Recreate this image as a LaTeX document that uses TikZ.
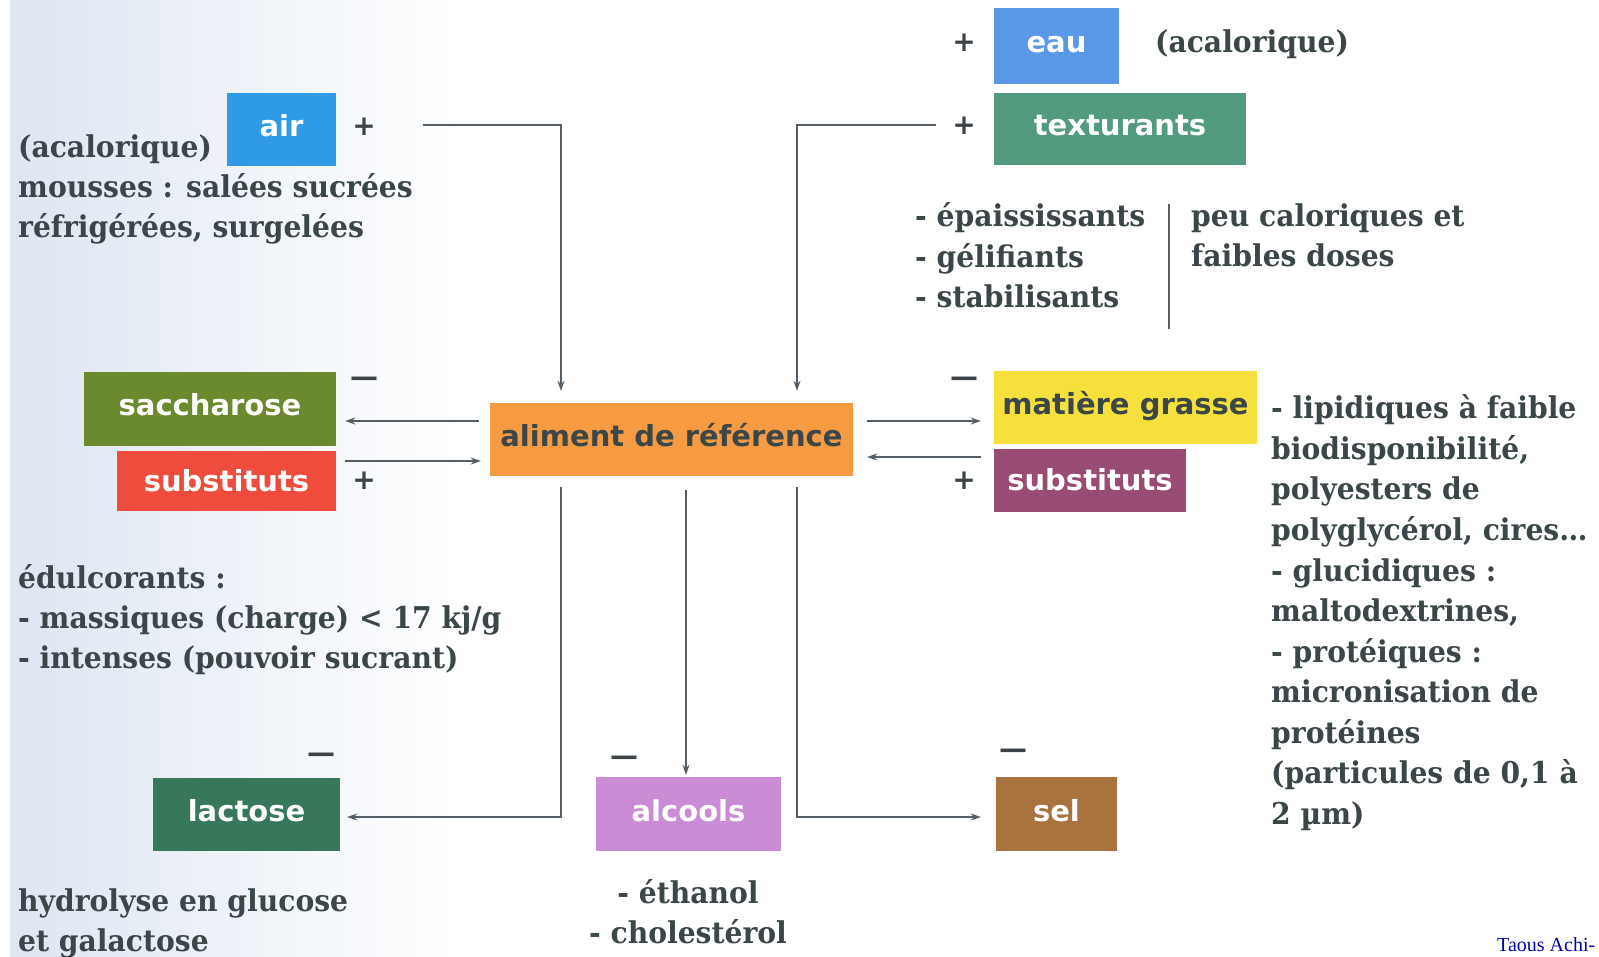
\documentclass[tikz,border=0pt]{standalone}
\usepackage{fontspec}
\setmainfont{Liberation Serif}
\newfontfamily\boxfont{DejaVu Sans}
\newfontfamily\serfont{DejaVu Serif}[FakeStretch=0.94]
\usetikzlibrary{arrows.meta}
\definecolor{cAir}{RGB}{47,154,230}
\definecolor{cEau}{RGB}{90,152,232}
\definecolor{cTex}{RGB}{82,155,126}
\definecolor{cSac}{RGB}{107,138,46}
\definecolor{cSubR}{RGB}{240,76,62}
\definecolor{cAli}{RGB}{247,155,66}
\definecolor{cMg}{RGB}{245,224,60}
\definecolor{cSubP}{RGB}{152,76,116}
\definecolor{cLac}{RGB}{56,120,90}
\definecolor{cAlc}{RGB}{202,140,212}
\definecolor{cSel}{RGB}{168,115,62}
\definecolor{txtc}{RGB}{58,70,72}
\definecolor{linec}{RGB}{84,94,102}
\definecolor{bgblue}{RGB}{222,230,242}
\definecolor{signc}{RGB}{60,68,72}
\begin{document}
\begin{tikzpicture}[x=1pt,y=-1pt,
  box/.style={rectangle, inner sep=0pt, text=white, text height=24pt, text depth=10pt, font=\boxfont\bfseries\fontsize{29}{34}\selectfont},
  txt/.style={inner sep=0pt, text=txtc, font=\serfont\bfseries\fontsize{30}{40}\selectfont},
  arr/.style={draw=linec, line width=1.4pt, -{Stealth[length=10pt,width=7pt]}},
  sign/.style={inner sep=0pt, text=signc, font=\boxfont\bfseries\fontsize{28}{30}\selectfont}]
\useasboundingbox (0,0) rectangle (1599,957);
\fill[white] (0,0) rectangle (1599,957);
\shade[left color=bgblue, right color=white] (10,0) rectangle (460,957);
% boxes
\node[box, fill=cAir, minimum width=109pt, minimum height=73pt] (air) at (281.5,129.5) {air};
\node[box, fill=cEau, minimum width=125pt, minimum height=76pt] (eau) at (1056.5,46) {eau};
\node[box, fill=cTex, minimum width=252pt, minimum height=72pt] (tex) at (1120,129) {texturants};
\node[box, fill=cSac, minimum width=252pt, minimum height=74pt] (sac) at (210,409) {saccharose};
\node[box, fill=cSubR, text depth=4pt, minimum width=219pt, minimum height=60pt] (subr) at (226.5,481) {substituts};
\node[box, fill=cAli, text=txtc, minimum width=363pt, minimum height=73pt] (ali) at (671.5,439.5) {aliment de référence};
\node[box, fill=cMg, text=txtc, minimum width=263pt, minimum height=73pt] (mg) at (1125.5,407.5) {matière grasse};
\node[box, fill=cSubP, text depth=4pt, minimum width=192pt, minimum height=63pt] (subp) at (1090,480.5) {substituts};
\node[box, fill=cLac, minimum width=187pt, minimum height=73pt] (lac) at (246.5,814.5) {lactose};
\node[box, fill=cAlc, minimum width=185pt, minimum height=74pt] (alc) at (688.5,814) {alcools};
\node[box, fill=cSel, minimum width=121pt, minimum height=74pt] (sel) at (1056.5,814) {sel};
% free ends
\coordinate (airIn) at (423,125);
\coordinate (texIn) at (936,125);
% connectors
\draw[arr, shorten >=12pt] (airIn) -| (ali.north -| 561,0);
\draw[arr, shorten >=12pt] (texIn) -| (ali.north -| 797,0);
\draw[arr, shorten <=11pt, shorten >=9pt] (ali.west |- 0,421) -- (sac.east |- 0,421);
\draw[arr, shorten <=9pt, shorten >=9pt] (subr.east |- 0,461) -- (ali.west |- 0,461);
\draw[arr, shorten <=14pt, shorten >=13pt] (ali.east |- 0,421) -- (mg.west |- 0,421);
\draw[arr, shorten <=13pt, shorten >=14pt] (subp.west |- 0,457) -- (ali.east |- 0,457);
\draw[arr, shorten <=11pt, shorten >=7pt] (ali.south -| 561,0) |- (lac.east |- 0,817);
\draw[arr, shorten <=14pt, shorten >=2pt] (ali.south -| 686,0) -- (alc.north -| 686,0);
\draw[arr, shorten <=11pt, shorten >=15pt] (ali.south -| 797,0) |- (sel.west |- 0,817);
\draw[draw=linec, line width=1.4pt] (1169,204) -- (1169,329);
% signs
\node[sign] (s1) at (364,127) {+};
\node[sign] (s2) at (964,43) {+};
\node[sign] (s3) at (964,126) {+};
\node[sign] (s4) at (364,382) {—};
\node[sign] (s5) at (364,481) {+};
\node[sign] (s6) at (964,382) {—};
\node[sign] (s7) at (964,481) {+};
\node[sign] (s8) at (321,758) {—};
\node[sign] (s9) at (624,761) {—};
\node[sign] (s10) at (1013,754) {—};
% texts
\node[txt, anchor=base west] (t1) at (18,158) {(acalorique)};
\node[txt, anchor=base west] (t2) at (18,198) {mousses : salées sucrées};
\node[txt, anchor=base west] (t3) at (18,238) {réfrigérées, surgelées};
\node[txt, anchor=base west] (t4) at (1155,53) {(acalorique)};
\node[txt, anchor=base west] (t5) at (915,227) {- épaississants};
\node[txt, anchor=base west] (t6) at (915,268) {- gélifiants};
\node[txt, anchor=base west] (t7) at (915,308) {- stabilisants};
\node[txt, anchor=base west] (t8) at (1191,227) {peu caloriques et};
\node[txt, anchor=base west] (t9) at (1191,267) {faibles doses};
\node[txt, anchor=base west] (t10) at (18,588) {édulcorants :};
\node[txt, anchor=base west] (t11) at (18,628) {- massiques (charge) < 17 kj/g};
\node[txt, anchor=base west] (t12) at (18,668) {- intenses (pouvoir sucrant)};
\node[txt, anchor=base west] (t13) at (18,911) {hydrolyse en glucose};
\node[txt, anchor=base west] (t14) at (18,951) {et galactose};
\node[txt, anchor=base] (t15) at (688,903) {- éthanol};
\node[txt, anchor=base] (t16) at (688,943) {- cholestérol};
\node[txt, anchor=base west] (r1) at (1271,419) {- lipidiques à faible};
\node[txt, anchor=base west] (r2) at (1271,459.5) {biodisponibilité,};
\node[txt, anchor=base west] (r3) at (1271,500) {polyesters de};
\node[txt, anchor=base west] (r4) at (1271,540.5) {polyglycérol, cires\ldots};
\node[txt, anchor=base west] (r5) at (1271,581) {- glucidiques :};
\node[txt, anchor=base west] (r6) at (1271,621.5) {maltodextrines,};
\node[txt, anchor=base west] (r7) at (1271,662) {- protéiques :};
\node[txt, anchor=base west] (r8) at (1271,702.5) {micronisation de};
\node[txt, anchor=base west] (r9) at (1271,743) {protéines};
\node[txt, anchor=base west] (r10) at (1271,783.5) {(particules de 0,1 à};
\node[txt, anchor=base west] (r11) at (1271,824) {2 µm)};
\node[inner sep=0pt, anchor=base west, text=blue!70!black, font=\fontsize{20}{24}\selectfont] (sig) at (1497,951) {Taous Achi-};
\end{tikzpicture}
\end{document}
